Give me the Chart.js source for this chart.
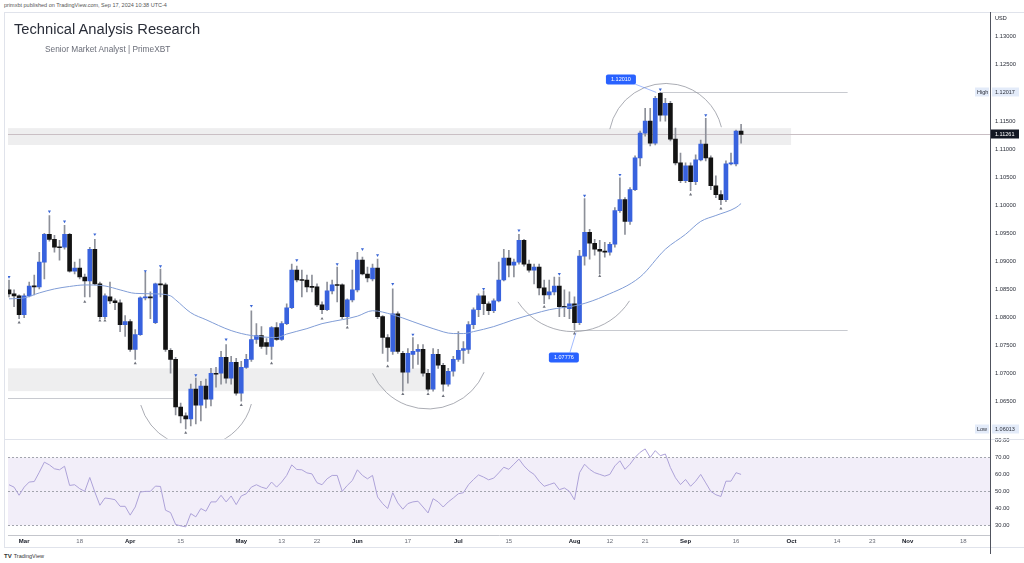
<!DOCTYPE html>
<html>
<head>
<meta charset="utf-8">
<script src="https://cdn.jsdelivr.net/npm/chart.js@4.4.1/dist/chart.umd.min.js"></script>
<style>
  body { margin: 0; width: 1024px; height: 563px; background: #fff; position: relative; overflow: hidden;
         font-family: "Liberation Sans", Arial, sans-serif; }
  canvas { position: absolute; left: 4px; top: 12px; }
  #pub { position: absolute; left: 4px; top: 2px; font-size: 5.5px; line-height: 6px; color: #555; }
  #title { position: absolute; left: 14px; top: 22px; font-size: 14.7px; line-height: 15px; color: #2a2e39; }
  #sub { position: absolute; left: 45px; top: 45px; font-size: 8.3px; line-height: 9px; color: #6a6d78; }
  #logo { position: absolute; left: 4px; top: 553px; font-size: 5.5px; line-height: 6px; color: #333; }
  #logo b { font-weight: 900; font-size: 6px; margin-right: 2px; }
  #axisTail { position: absolute; left: 990px; top: 548px; width: 1px; height: 6px; background: #50535e; }
</style>
</head>
<body>
<canvas id="chart" width="1020" height="536"></canvas>
<div id="axisTail"></div>
<div id="pub">primxbt published on TradingView.com, Sep 17, 2024 10:38 UTC-4</div>
<div id="title">Technical Analysis Research</div>
<div id="sub">Senior Market Analyst | PrimeXBT</div>
<div id="logo"><b>TV</b>TradingView</div>
<script>
// EURUSD daily, one candle per weekday. index 0 = Fri 1 Mar 2024, first candle = Tue 27 Feb (index -3)
const firstIdx = -3;

const open = [
  1.08487, 1.08416, 1.0838, 1.08044, 1.0838, 1.08557, 1.0854, 1.08982, 1.09478, 1.09389,
  1.09248, 1.09248, 1.09478, 1.08823, 1.08876, 1.08717, 1.08646, 1.09212, 1.08593, 1.08009,
  1.08363, 1.08292, 1.08257, 1.07867, 1.0792, 1.07425, 1.0769, 1.08345, 1.08363, 1.07903,
  1.08593, 1.08575, 1.07407, 1.07248, 1.06398, 1.06239, 1.06186, 1.06717, 1.06433, 1.0677,
  1.0654, 1.07, 1.07, 1.07283, 1.06912, 1.07195, 1.06646, 1.07106, 1.07248, 1.07602,
  1.07673, 1.07549, 1.07478, 1.07814, 1.07602, 1.07885, 1.08168, 1.0884, 1.08664, 1.08664,
  1.0854, 1.0854, 1.08221, 1.08133, 1.08469, 1.08575, 1.08575, 1.08009, 1.0831, 1.08487,
  1.09018, 1.0877, 1.08681, 1.08876, 1.08009, 1.07637, 1.07389, 1.08062, 1.07354, 1.07018,
  1.07336, 1.07389, 1.07425, 1.07, 1.06717, 1.07336, 1.07142, 1.06805, 1.07035, 1.07248,
  1.07407, 1.07425, 1.07867, 1.08133, 1.0838, 1.08239, 1.08115, 1.08292, 1.08664, 1.09053,
  1.08929, 1.08982, 1.09372, 1.08947, 1.0884, 1.08894, 1.08522, 1.08398, 1.08451, 1.08557,
  1.08186, 1.0815, 1.08239, 1.07903, 1.09088, 1.09513, 1.09318, 1.09212, 1.09177, 1.09159,
  1.09301, 1.09902, 1.10097, 1.09708, 1.10274, 1.10841, 1.11283, 1.11496, 1.11106, 1.11991,
  1.11602, 1.11814, 1.11177, 1.10752, 1.10433, 1.10699, 1.10416, 1.10805, 1.11088, 1.10841,
  1.10345, 1.10186, 1.10097, 1.10734, 1.10734, 1.11319
];
const high = [
  1.08664, 1.08487, 1.08398, 1.08416, 1.08628, 1.08752, 1.09159, 1.09495, 1.09814, 1.0946,
  1.09372, 1.09637, 1.09495, 1.08982, 1.09035, 1.0877, 1.09248, 1.09389, 1.08628, 1.08416,
  1.08628, 1.08327, 1.0831, 1.08027, 1.07956, 1.07779, 1.08363, 1.08805, 1.08451, 1.0861,
  1.08858, 1.0861, 1.07442, 1.07283, 1.06469, 1.06292, 1.06805, 1.06912, 1.06858, 1.06894,
  1.07088, 1.07106, 1.07389, 1.07513, 1.07301, 1.07265, 1.07212, 1.07336, 1.08115, 1.07885,
  1.07832, 1.07619, 1.07832, 1.07903, 1.0792, 1.08239, 1.08947, 1.08911, 1.0884, 1.08752,
  1.08752, 1.08593, 1.08274, 1.08628, 1.08664, 1.08894, 1.08593, 1.08327, 1.0884, 1.09159,
  1.09071, 1.08894, 1.08947, 1.09035, 1.08027, 1.0769, 1.08504, 1.08097, 1.07389, 1.07442,
  1.07637, 1.07513, 1.07513, 1.07071, 1.07442, 1.07425, 1.07177, 1.07088, 1.07301, 1.07743,
  1.07566, 1.0792, 1.08168, 1.08416, 1.08469, 1.08274, 1.08327, 1.08982, 1.09212, 1.09194,
  1.09035, 1.09478, 1.09389, 1.09018, 1.08947, 1.08947, 1.08664, 1.08664, 1.08717, 1.08717,
  1.08487, 1.08451, 1.08363, 1.09194, 1.10115, 1.09566, 1.09389, 1.09372, 1.09336, 1.09336,
  1.09956, 1.10487, 1.10133, 1.1031, 1.10876, 1.11319, 1.11726, 1.11726, 1.11938, 1.12009,
  1.11903, 1.1185, 1.11372, 1.10929, 1.10752, 1.10752, 1.10894, 1.11159, 1.11549, 1.10876,
  1.10522, 1.10256, 1.10788, 1.10929, 1.11336, 1.11442
];
const low = [
  1.08363, 1.08186, 1.07973, 1.07991, 1.08363, 1.08398, 1.08504, 1.08681, 1.09354, 1.09159,
  1.09018, 1.09212, 1.08805, 1.0877, 1.08681, 1.08363, 1.08363, 1.08575, 1.07973, 1.07973,
  1.08239, 1.08133, 1.07743, 1.07655, 1.07389, 1.07248, 1.07673, 1.0831, 1.07973, 1.07885,
  1.08363, 1.07389, 1.07, 1.06257, 1.06115, 1.06009, 1.06062, 1.06097, 1.0615, 1.0638,
  1.06416, 1.06752, 1.06805, 1.06823, 1.06805, 1.0661, 1.06504, 1.07088, 1.07212, 1.07531,
  1.07442, 1.07336, 1.07248, 1.07584, 1.07584, 1.07867, 1.0815, 1.08628, 1.08363, 1.08451,
  1.08451, 1.08186, 1.08062, 1.08115, 1.08416, 1.08274, 1.07973, 1.07867, 1.08274, 1.08451,
  1.08752, 1.08628, 1.08646, 1.07973, 1.07354, 1.07212, 1.07336, 1.07354, 1.06681, 1.06823,
  1.07088, 1.07159, 1.06947, 1.06681, 1.06681, 1.07088, 1.06681, 1.0677, 1.06947, 1.07212,
  1.07177, 1.07354, 1.07796, 1.08009, 1.08044, 1.08044, 1.0808, 1.08274, 1.08646, 1.08717,
  1.08717, 1.08947, 1.08911, 1.08805, 1.08593, 1.08398, 1.08239, 1.08327, 1.08398, 1.08009,
  1.08009, 1.07973, 1.07779, 1.07867, 1.08929, 1.09035, 1.09106, 1.0877, 1.09071, 1.09106,
  1.09248, 1.09867, 1.09478, 1.09655, 1.10256, 1.10699, 1.1123, 1.11053, 1.11071, 1.11496,
  1.11496, 1.11142, 1.10717, 1.10398, 1.10398, 1.10256, 1.10363, 1.10788, 1.10788, 1.10274,
  1.10133, 1.10009, 1.10062, 1.10717, 1.10699, 1.11106
];
const close = [
  1.08416, 1.0838, 1.08044, 1.0838, 1.08557, 1.0854, 1.08982, 1.09478, 1.09389, 1.09248,
  1.09239, 1.09478, 1.08823, 1.08876, 1.08717, 1.08646, 1.09212, 1.08593, 1.08009, 1.0838,
  1.08292, 1.08257, 1.07867, 1.0792, 1.07425, 1.0769, 1.08345, 1.08363, 1.08345, 1.08593,
  1.08575, 1.07425, 1.07248, 1.06398, 1.06239, 1.06186, 1.06717, 1.06433, 1.0677, 1.0654,
  1.07, 1.06982, 1.07283, 1.06912, 1.07195, 1.06646, 1.07106, 1.07248, 1.07602, 1.07673,
  1.07478, 1.07478, 1.07814, 1.07602, 1.07885, 1.08168, 1.0884, 1.08664, 1.08655, 1.0854,
  1.08531, 1.08221, 1.08133, 1.08469, 1.08575, 1.08566, 1.08009, 1.0831, 1.08487, 1.09018,
  1.0877, 1.08699, 1.08876, 1.08009, 1.07637, 1.0746, 1.08062, 1.07389, 1.07018, 1.07354,
  1.07389, 1.07425, 1.07, 1.06717, 1.07336, 1.07142, 1.06805, 1.07035, 1.07248, 1.07407,
  1.07442, 1.07867, 1.08133, 1.0838, 1.08239, 1.08115, 1.08292, 1.08664, 1.09053, 1.08929,
  1.08982, 1.09372, 1.08947, 1.0884, 1.08894, 1.08522, 1.08398, 1.08451, 1.08557, 1.08186,
  1.08177, 1.08239, 1.07903, 1.09088, 1.09513, 1.09318, 1.09212, 1.09177, 1.09159, 1.09301,
  1.09902, 1.10097, 1.09708, 1.10274, 1.10841, 1.11283, 1.11496, 1.11106, 1.11903, 1.11602,
  1.11814, 1.11177, 1.10752, 1.10433, 1.10699, 1.10416, 1.10805, 1.11088, 1.10841, 1.10345,
  1.10186, 1.10097, 1.10734, 1.10743, 1.11319, 1.11261
];

// moving average, read at a subset of candles
const maIdx = [-3, 0, 3, 6, 9, 12, 16, 19, 22, 26, 29, 30, 33, 36, 41, 45, 50, 52, 56, 59, 63,
  66, 69, 73, 77, 81, 85, 87, 89, 93, 97, 101, 104, 110, 115, 122, 127, 131, 134, 137, 141, 142];
const maVal = [1.08327, 1.08345, 1.08433, 1.08504, 1.08548, 1.08575, 1.08557, 1.08487, 1.08425,
  1.08416, 1.0838, 1.0831, 1.0808, 1.07956, 1.07761, 1.07673, 1.07637, 1.07699, 1.07796, 1.07885,
  1.07956, 1.08018, 1.08115, 1.08044, 1.0792, 1.07796, 1.07708, 1.07708, 1.07743, 1.07832, 1.07956,
  1.08062, 1.08133, 1.08221, 1.0838, 1.08717, 1.09212, 1.09478, 1.09708, 1.09814, 1.09956, 1.10027];

// RSI, one value per candle
const rsi = [
  53.9, 52.5, 47.7, 52.5, 55.5, 55.8, 61.3, 67.2, 65.6, 63.3,
  62.7, 64.8, 53.5, 53.9, 51.6, 50.0, 58.2, 49.6, 41.8, 46.1,
  45.7, 45.1, 41.2, 41.2, 36.0, 40.8, 49.6, 50.0, 50.0, 53.1,
  52.9, 38.9, 37.5, 30.5, 29.7, 29.1, 36.9, 35.0, 39.9, 38.3,
  43.8, 43.8, 47.7, 43.8, 47.3, 42.2, 47.3, 48.6, 52.5, 53.9,
  52.5, 51.6, 55.5, 52.5, 55.5, 59.4, 65.6, 62.9, 62.7, 60.9,
  60.3, 55.1, 53.9, 57.4, 59.4, 59.4, 50.0, 53.5, 56.4, 62.7,
  59.4, 57.4, 59.4, 46.7, 42.8, 39.9, 49.2, 43.2, 39.5, 42.8,
  43.8, 44.2, 40.8, 37.3, 45.7, 43.8, 40.8, 43.8, 46.1, 48.6,
  49.2, 53.9, 57.0, 59.7, 58.4, 56.8, 57.8, 60.9, 64.2, 63,
  66, 69, 65, 62, 60, 56, 53, 54, 55, 51,
  52, 50, 45, 61, 66, 63, 61, 60, 59, 60,
  65, 68, 63, 66, 70, 73, 75, 70, 74, 71,
  72, 64, 58, 54, 57, 53, 56, 60, 55, 50,
  48, 47, 56, 56, 61, 60
];

// pivot markers
const hiIdx = [-3, 5, 8, 14, 24, 27, 34, 40, 45, 54, 62, 67, 70, 73, 77, 91, 98, 106, 111, 118, 126, 135];
const hiPx = [1.08717, 1.09885, 1.09708, 1.09478, 1.08823, 1.08911, 1.06964, 1.07602, 1.08203, 1.09018,
  1.08947, 1.09212, 1.09106, 1.08593, 1.0769, 1.08504, 1.09549, 1.0877, 1.10168, 1.1054, 1.12062, 1.11602];
const loIdx = [-1, 12, 15, 16, 22, 32, 43, 49, 59, 64, 72, 75, 80, 83, 103, 109, 114, 132, 138];
const loPx = [1.07903, 1.08274, 1.07938, 1.07938, 1.07177, 1.05938, 1.06433, 1.07177, 1.07973, 1.07814,
  1.07124, 1.06628, 1.06628, 1.06593, 1.08186, 1.07708, 1.08734, 1.10186, 1.09938];

// axes
const tickIdx = [0, 11, 21, 31, 43, 51, 58, 66, 76, 86, 96, 109, 116, 123, 131, 141, 152, 161, 168, 175, 186];
const tickText = ['Mar', '18', 'Apr', '15', 'May', '13', '22', 'Jun', '17', 'Jul', '15', 'Aug', '12', '21',
  'Sep', '16', 'Oct', '14', '23', 'Nov', '18'];
const priceTicks = [1.065, 1.07, 1.075, 1.08, 1.085, 1.09, 1.095, 1.1, 1.105, 1.11, 1.115, 1.12, 1.125, 1.13];
const rsiTicks = [30, 40, 50, 60, 70, 80];
const periodHigh = 1.12017, periodLow = 1.06013, lastPrice = 1.11261;

const FONT = '"Liberation Sans", Arial, sans-serif';
const upColor = '#3862de', downColor = '#131313', wickColor = '#8d9099';

const idx = open.map((_, i) => i + firstIdx);
const wickData = idx.map((v, i) => ({ x: v, y: [low[i], high[i]] }));
const bodyData = idx.map((v, i) => ({ x: v, y: [open[i], close[i]] }));
const bodyColors = idx.map((v, i) => close[i] >= open[i] ? upColor : downColor);

function circle(p1, p2, p3) {
  const [ax, ay] = p1, [bx, by] = p2, [cx, cy] = p3;
  const d = 2 * (ax * (by - cy) + bx * (cy - ay) + cx * (ay - by));
  const a2 = ax * ax + ay * ay, b2 = bx * bx + by * by, c2 = cx * cx + cy * cy;
  const ux = (a2 * (by - cy) + b2 * (cy - ay) + c2 * (ay - by)) / d;
  const uy = (a2 * (cx - bx) + b2 * (ax - cx) + c2 * (bx - ax)) / d;
  return [ux, uy, Math.hypot(ax - ux, ay - uy)];
}

// drawings on the chart (zones, arcs, labels, axis badges)
const drawings = {
  id: 'drawings',
  beforeDatasetsDraw(chart) {
    const { ctx, chartArea: a, scales: { x, y, rsiAxis } } = chart;
    const X = v => x.getPixelForValue(v), Y = v => y.getPixelForValue(v);
    ctx.save();
    // grey zones
    ctx.fillStyle = 'rgba(120,123,134,0.13)';
    [[-3.2, 151.9, 1.11372, 1.11071], [-3.2, 79.9, 1.07088, 1.06681]].forEach(z => {
      ctx.fillRect(X(z[0]), Y(z[2]), X(z[1]) - X(z[0]), Y(z[3]) - Y(z[2]));
    });
    // thin levels
    ctx.lineWidth = 1;
    ctx.strokeStyle = '#c8cad0';
    const hline = (x0, x1, p) => { ctx.beginPath(); ctx.moveTo(X(x0), Math.round(Y(p)) + 0.5); ctx.lineTo(X(x1), Math.round(Y(p)) + 0.5); ctx.stroke(); };
    hline(-3.2, 29.6, 1.06557);
    hline(126, 163.1, periodHigh);
    hline(109, 163.1, 1.07776);
    ctx.strokeStyle = '#c9bfc4';
    hline(-3.2, 191.3, lastPrice);
    // RSI band
    const R = v => rsiAxis.getPixelForValue(v);
    ctx.fillStyle = 'rgba(126,87,194,0.1)';
    ctx.fillRect(a.left, R(70), a.width, R(30) - R(70));
    ctx.setLineDash([2, 2]);
    ctx.strokeStyle = '#a3a5ae';
    [70, 50, 30].forEach(v => {
      ctx.beginPath(); ctx.moveTo(a.left, Math.round(R(v)) + 0.5); ctx.lineTo(a.right, Math.round(R(v)) + 0.5); ctx.stroke();
    });
    ctx.restore();
  },
  afterDatasetsDraw(chart) {
    const { ctx, chartArea: a, scales: { x, y } } = chart;
    const P = (i, p) => [x.getPixelForValue(i), y.getPixelForValue(p)];
    ctx.save();
    ctx.beginPath();
    ctx.rect(a.left, y.top, a.width, y.bottom - y.top);
    ctx.clip();
    // rounded arcs
    ctx.strokeStyle = '#9598a1';
    ctx.lineWidth = 0.8;
    const arcs = [
      [[23.1, 1.06433], [33.9, 1.0569], [45.0, 1.06451]],
      [[69.0, 1.07], [79.9, 1.06363], [91.1, 1.07018]],
      [[97.8, 1.08274], [108.5, 1.07743], [119.9, 1.08292]],
      [[116.0, 1.11354], [126.6, 1.12168], [138.1, 1.11389]]
    ];
    const norm = t => ((t % (2 * Math.PI)) + 2 * Math.PI) % (2 * Math.PI);
    arcs.forEach(pts => {
      const [p1, p2, p3] = pts.map(q => P(q[0], q[1]));
      const [ux, uy, rad] = circle(p1, p2, p3);
      const a1 = Math.atan2(p1[1] - uy, p1[0] - ux), a2 = Math.atan2(p2[1] - uy, p2[0] - ux), a3 = Math.atan2(p3[1] - uy, p3[0] - ux);
      const cw = norm(a2 - a1) < norm(a3 - a1);
      ctx.beginPath();
      ctx.arc(ux, uy, rad, a1, a3, !cw);
      ctx.stroke();
    });
    // price callouts
    const callout = (text, c, from, to) => {
      ctx.strokeStyle = 'rgba(41,98,255,0.55)';
      ctx.lineWidth = 0.8;
      const f = P(from[0], from[1]), t = P(to[0], to[1]);
      ctx.beginPath(); ctx.moveTo(f[0], f[1]); ctx.lineTo(t[0], t[1]); ctx.stroke();
      const [cx, cy] = P(c[0], c[1]);
      ctx.fillStyle = '#2962ff';
      ctx.beginPath(); ctx.roundRect(cx - 15, cy - 5, 30, 10, 2); ctx.fill();
      ctx.fillStyle = '#fff';
      ctx.font = '5.5px ' + FONT;
      ctx.textAlign = 'center'; ctx.textBaseline = 'middle';
      ctx.fillText(text, cx, cy + 0.3);
    };
    callout('1.12010', [118.2, 1.12239], [120.7, 1.12168], [125.2, 1.12009]);
    callout('1.07776', [106.9, 1.07283], [108.1, 1.07371], [109.3, 1.07725]);
    ctx.restore();
  },
  afterDraw(chart) {
    const { ctx, chartArea: a, scales: { y, rsiAxis }, width, height } = chart;
    ctx.save();
    ctx.lineWidth = 1;
    // frame and pane separator
    ctx.strokeStyle = '#e0e3eb';
    ctx.beginPath();
    ctx.moveTo(0, 0.5); ctx.lineTo(width, 0.5);
    ctx.moveTo(0.5, 0); ctx.lineTo(0.5, height);
    ctx.moveTo(0, height - 0.5); ctx.lineTo(width, height - 0.5);
    ctx.moveTo(0, Math.round(rsiAxis.top) + 0.5); ctx.lineTo(width, Math.round(rsiAxis.top) + 0.5);
    ctx.stroke();
    ctx.strokeStyle = '#50535e';
    ctx.beginPath(); ctx.moveTo(Math.round(a.right) + 0.5, 0); ctx.lineTo(Math.round(a.right) + 0.5, height); ctx.stroke();
    // axis badges
    ctx.font = '5.5px ' + FONT;
    ctx.textBaseline = 'middle'; ctx.textAlign = 'left';
    ctx.fillStyle = '#131722';
    ctx.fillText('USD', a.right + 5, 6);
    const badge = (p, tag) => {
      const yy = Math.round(y.getPixelForValue(p));
      ctx.fillStyle = '#e3ebf9';
      ctx.fillRect(a.right - 15, yy - 4.5, 14, 9);
      ctx.fillRect(a.right + 2, yy - 4.5, 27, 9);
      ctx.fillStyle = '#2a2e39';
      ctx.fillText(tag, a.right - 13, yy);
      ctx.fillText(p.toFixed(5), a.right + 5, yy);
    };
    badge(periodHigh, 'High');
    badge(periodLow, 'Low');
    const ly = Math.round(y.getPixelForValue(lastPrice));
    ctx.fillStyle = '#131722';
    ctx.fillRect(a.right + 1, ly - 4.5, 28, 9);
    ctx.fillStyle = '#fff';
    ctx.fillText(lastPrice.toFixed(5), a.right + 5, ly);
    ctx.restore();
  }
};

new Chart(document.getElementById('chart'), {
  type: 'bar',
  data: {
    datasets: [
      { type: 'line', label: 'MA', data: maIdx.map((v, i) => ({ x: v, y: maVal[i] })), yAxisID: 'y',
        borderColor: '#819dd6', borderWidth: 1, pointRadius: 0, cubicInterpolationMode: 'monotone', order: 0 },
      { type: 'line', label: 'pivot high', data: hiIdx.map((v, i) => ({ x: v, y: hiPx[i] })), yAxisID: 'y',
        showLine: false, pointStyle: 'triangle', rotation: 180, pointRadius: 1.8, borderWidth: 0,
        backgroundColor: '#3a66d6', order: 0 },
      { type: 'line', label: 'pivot low', data: loIdx.map((v, i) => ({ x: v, y: loPx[i] })), yAxisID: 'y',
        showLine: false, pointStyle: 'triangle', pointRadius: 1.8, borderWidth: 0,
        backgroundColor: '#6f727c', order: 0 },
      { label: 'body', data: bodyData, yAxisID: 'y', backgroundColor: bodyColors, barThickness: 4,
        minBarLength: 1, grouped: false, borderWidth: 0, order: 1 },
      { label: 'wick', data: wickData, yAxisID: 'y', backgroundColor: wickColor, barThickness: 1,
        grouped: false, borderWidth: 0, order: 2 },
      { type: 'line', label: 'RSI', data: idx.map((v, i) => ({ x: v, y: rsi[i] })), yAxisID: 'rsiAxis',
        borderColor: '#ada2d8', borderWidth: 1, pointRadius: 0, tension: 0, order: 0 }
    ]
  },
  options: {
    responsive: false,
    devicePixelRatio: 1,
    animation: false,
    layout: { padding: 0 },
    plugins: { legend: { display: false }, tooltip: { enabled: false } },
    scales: {
      x: {
        type: 'linear', min: -3.2, max: 191.3, offset: false,
        grid: { display: false, drawTicks: false },
        border: { display: true, color: '#c4c6cc' },
        afterBuildTicks: s => { s.ticks = tickIdx.map(v => ({ value: v })); },
        afterFit: s => { s.height = 13; s.paddingLeft = 0; s.paddingRight = 0; },
        ticks: {
          autoSkip: false, maxRotation: 0, padding: 3,
          callback: (v, i) => tickText[i],
          font: c => ({ size: 6, family: FONT, weight: isNaN(+tickText[c.index]) ? 'bold' : 'normal' }),
          color: c => isNaN(+tickText[c.index]) ? '#131722' : '#6a6d78'
        }
      },
      y: {
        type: 'linear', axis: 'y', position: 'right', stack: 'panes', stackWeight: 426,
        min: 1.05832, max: 1.13372,
        grid: { display: false, drawTicks: false },
        border: { display: true, color: '#50535e' },
        afterBuildTicks: s => { s.ticks = priceTicks.map(v => ({ value: v })); },
        afterFit: s => { s.width = 34; s.paddingTop = 0; s.paddingBottom = 0; },
        ticks: { autoSkip: false, padding: 5, callback: v => v.toFixed(5), font: { size: 5.8, family: FONT }, color: '#2a2e39' }
      },
      rsiAxis: {
        type: 'linear', axis: 'y', position: 'right', stack: 'panes', stackWeight: 97,
        min: 24.3, max: 81,
        grid: { display: false, drawTicks: false },
        border: { display: true, color: '#50535e' },
        afterBuildTicks: s => { s.ticks = rsiTicks.map(v => ({ value: v })); },
        afterFit: s => { s.width = 34; s.paddingTop = 0; s.paddingBottom = 0; },
        ticks: { autoSkip: false, padding: 5, callback: v => v.toFixed(2), font: { size: 5.8, family: FONT }, color: '#2a2e39' }
      }
    }
  },
  plugins: [drawings]
});
</script>
</body>
</html>
